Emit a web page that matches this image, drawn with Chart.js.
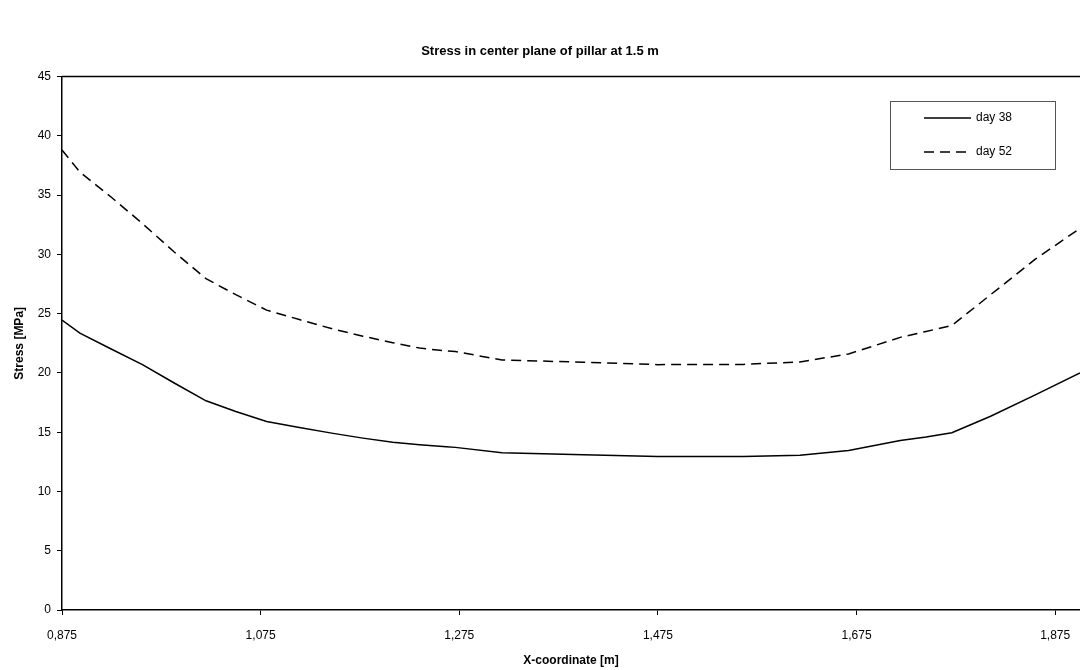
<!DOCTYPE html>
<html>
<head>
<meta charset="utf-8">
<title>Stress in center plane of pillar</title>
<script src="https://cdn.jsdelivr.net/npm/chart.js@4"></script>
<style>
    html, body { margin: 0; padding: 0; background: #fff; }
    #wrap { width: 1080px; height: 670px; }
</style>
</head>
<body>
<div id="wrap"><canvas id="stressChart" width="1080" height="670"></canvas></div>
<script>
// x-coordinate of the nodes [m]
const xCoords = [0.875, 0.893, 0.925, 0.956, 0.988, 1.020, 1.050, 1.081, 1.114, 1.148, 1.178, 1.208, 1.235,
    1.262, 1.271, 1.318, 1.400, 1.475, 1.561, 1.618, 1.667, 1.719, 1.745, 1.771, 1.810, 1.855, 1.900];

// stress [MPa]
const day38 = [24.45, 23.35, 22.0, 20.7, 19.15, 17.65, 16.75, 15.9, 15.4, 14.9, 14.5, 14.15, 13.95,
    13.77, 13.72, 13.26, 13.1, 12.95, 12.95, 13.05, 13.45, 14.3, 14.6, 14.95, 16.35, 18.15, 20.0];
const day52 = [38.8, 36.95, 34.8, 32.6, 30.2, 27.95, 26.6, 25.3, 24.5, 23.7, 23.1, 22.55, 22.1,
    21.85, 21.8, 21.1, 20.9, 20.7, 20.72, 20.93, 21.6, 23.0, 23.5, 24.0, 26.6, 29.6, 32.2];

const seriesNames = ['day 38', 'day 52'];
const xTicks = [0.875, 1.075, 1.275, 1.475, 1.675, 1.875];
const yTicks = [0, 5, 10, 15, 20, 25, 30, 35, 40, 45];

const FONT = 'Arial, "Liberation Sans", sans-serif';

function toPoints(values) {
    return values.map((v, i) => ({ x: xCoords[i], y: v }));
}

// top frame line + boxed legend in the upper right
const framePlugin = {
    id: 'frameAndLegend',
    afterDraw(chart) {
        const ctx = chart.ctx;
        const area = chart.chartArea;
        ctx.save();
        ctx.strokeStyle = '#000';
        ctx.lineWidth = 1.5;
        ctx.beginPath();
        ctx.moveTo(area.left, area.top);
        ctx.lineTo(area.right, area.top);
        ctx.stroke();

        // legend box
        const bx = 890, by = 101, bw = 165, bh = 68;
        ctx.fillStyle = '#fff';
        ctx.fillRect(bx, by, bw, bh);
        ctx.strokeStyle = '#555';
        ctx.lineWidth = 1;
        ctx.strokeRect(bx + 0.5, by + 0.5, bw, bh);

        ctx.font = '12px ' + FONT;
        ctx.textBaseline = 'middle';
        ctx.fillStyle = '#000';
        chart.data.datasets.forEach((ds, i) => {
            const y = by + 17 + i * 34;
            ctx.strokeStyle = '#000';
            ctx.lineWidth = 1.5;
            ctx.setLineDash(ds.borderDash || []);
            ctx.beginPath();
            ctx.moveTo(924, y);
            ctx.lineTo(971, y);
            ctx.stroke();
            ctx.setLineDash([]);
            ctx.fillText(ds.label, 976, y);
        });
        ctx.restore();
    }
};

const ctx = document.getElementById('stressChart').getContext('2d');
new Chart(ctx, {
    type: 'line',
    data: {
        datasets: [
            {
                label: seriesNames[0],
                data: toPoints(day38),
                borderColor: '#000',
                borderWidth: 1.5,
                pointRadius: 0,
                tension: 0,
                fill: false
            },
            {
                label: seriesNames[1],
                data: toPoints(day52),
                borderColor: '#000',
                borderWidth: 1.5,
                borderDash: [10, 6],
                pointRadius: 0,
                tension: 0,
                fill: false
            }
        ]
    },
    options: {
        responsive: false,
        animation: false,
        layout: { padding: 0 },
        plugins: {
            legend: { display: false },
            tooltip: { enabled: false },
            title: {
                display: true,
                text: 'Stress in center plane of pillar at 1.5 m',
                color: '#000',
                font: { family: FONT, size: 13, weight: 'bold' },
                padding: { top: 44, bottom: 17 }
            }
        },
        scales: {
            x: {
                type: 'linear',
                min: 0.875,
                max: 1.9,
                afterBuildTicks: (scale) => {
                    scale.ticks = xTicks.map(v => ({ value: v }));
                },
                afterFit: (scale) => {
                    scale.height = 60;
                    scale.paddingLeft = 0;
                    scale.paddingRight = 0;
                },
                ticks: {
                    color: '#000',
                    font: { family: FONT, size: 12 },
                    padding: 13,
                    maxRotation: 0,
                    autoSkip: false,
                    callback: (v) => v.toFixed(3).replace('.', ',')
                },
                grid: {
                    drawOnChartArea: false,
                    drawTicks: true,
                    tickLength: 5,
                    color: '#000',
                    lineWidth: 1
                },
                border: { color: '#000', width: 1.5 },
                title: {
                    display: true,
                    text: 'X-coordinate [m]',
                    color: '#000',
                    font: { family: FONT, size: 12, weight: 'bold' },
                    padding: { top: 0, bottom: 2 }
                }
            },
            y: {
                min: 0,
                max: 45,
                afterBuildTicks: (scale) => {
                    scale.ticks = yTicks.map(v => ({ value: v }));
                },
                afterFit: (scale) => { scale.width = 62; },
                ticks: {
                    color: '#000',
                    font: { family: FONT, size: 12 },
                    padding: 6
                },
                grid: {
                    drawOnChartArea: false,
                    drawTicks: true,
                    tickLength: 5,
                    color: '#000',
                    lineWidth: 1
                },
                border: { color: '#000', width: 1.5 },
                title: {
                    display: true,
                    text: 'Stress [MPa]',
                    color: '#000',
                    font: { family: FONT, size: 12, weight: 'bold' },
                    padding: { top: 12, bottom: 0 }
                }
            }
        }
    },
    plugins: [framePlugin]
});
</script>
</body>
</html>
